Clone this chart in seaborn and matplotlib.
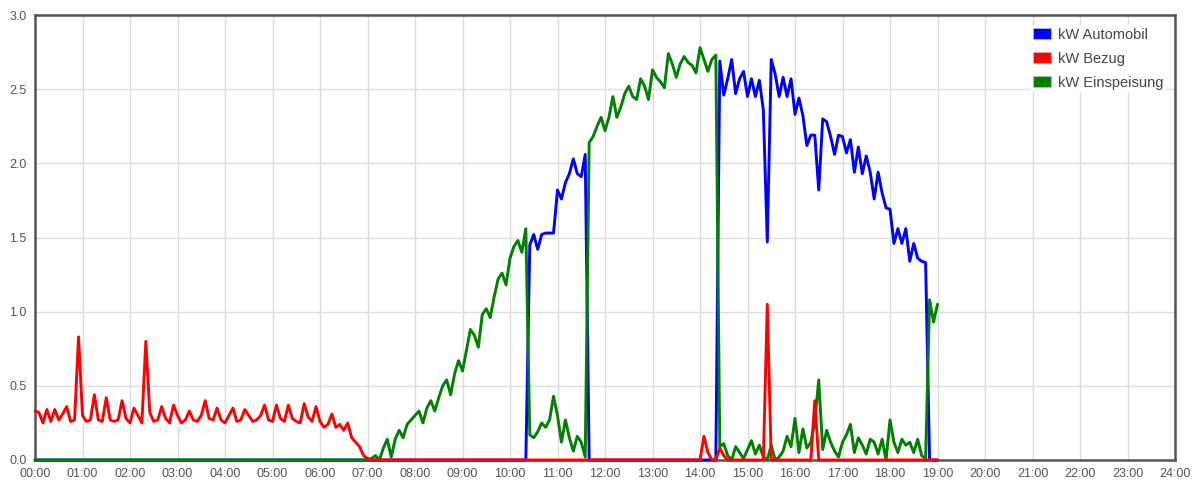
import numpy as np
import pandas as pd
import matplotlib
matplotlib.use("Agg")
import matplotlib.pyplot as plt
from matplotlib.patches import Patch
import seaborn as sns

# 5-minute readings from 00:00 to 19:00, one row per hour
kw_automobil = (
    [0.0] * 12 * 10  # 00:00 - 09:55
    + [0.0, 0.0, 0.0, 0.0, 0.0, 1.45, 1.52, 1.42, 1.52, 1.53, 1.53, 1.53]  # 10
    + [1.82, 1.76, 1.87, 1.93, 2.03, 1.93, 1.91, 2.06, 0.0, 0.0, 0.0, 0.0]  # 11
    + [0.0] * 12  # 12
    + [0.0] * 12  # 13
    + [0.0, 0.0, 0.0, 0.0, 0.0, 2.69, 2.46, 2.57, 2.70, 2.47, 2.57, 2.62]  # 14
    + [2.45, 2.57, 2.45, 2.56, 2.36, 1.47, 2.70, 2.60, 2.45, 2.58, 2.45, 2.57]  # 15
    + [2.33, 2.44, 2.32, 2.12, 2.19, 2.19, 1.82, 2.30, 2.28, 2.18, 2.06, 2.19]  # 16
    + [2.18, 2.07, 2.16, 1.94, 2.11, 1.93, 2.05, 1.94, 1.76, 1.94, 1.80, 1.70]  # 17
    + [1.69, 1.46, 1.56, 1.46, 1.56, 1.34, 1.46, 1.36, 1.34, 1.33, 0.0, 0.0]  # 18
    + [0.0]  # 19:00
)

kw_bezug = (
    [0.33, 0.32, 0.25, 0.34, 0.26, 0.34, 0.27, 0.31, 0.36, 0.26, 0.27, 0.83]  # 00
    + [0.30, 0.26, 0.27, 0.44, 0.27, 0.26, 0.42, 0.27, 0.26, 0.27, 0.40, 0.28]  # 01
    + [0.25, 0.35, 0.30, 0.25, 0.80, 0.32, 0.26, 0.27, 0.36, 0.28, 0.25, 0.37]  # 02
    + [0.30, 0.25, 0.27, 0.33, 0.27, 0.26, 0.30, 0.40, 0.28, 0.27, 0.35, 0.27]  # 03
    + [0.25, 0.30, 0.35, 0.26, 0.27, 0.34, 0.30, 0.26, 0.27, 0.30, 0.37, 0.27]  # 04
    + [0.26, 0.37, 0.28, 0.26, 0.37, 0.28, 0.26, 0.25, 0.38, 0.29, 0.26, 0.36]  # 05
    + [0.26, 0.22, 0.24, 0.31, 0.22, 0.24, 0.20, 0.25, 0.15, 0.12, 0.09, 0.03]  # 06
    + [0.01] + [0.0] * 11  # 07
    + [0.0] * 12 * 6  # 08 - 13
    + [0.0, 0.16, 0.05, 0.0, 0.0, 0.08, 0.03, 0.0, 0.0, 0.0, 0.0, 0.0]  # 14 (values from 14:25)
    + [0.0, 0.0, 0.0, 0.0, 0.0, 1.05, 0.0, 0.0, 0.0, 0.0, 0.0, 0.0]  # 15
    + [0.0, 0.0, 0.0, 0.0, 0.0, 0.40, 0.0, 0.0, 0.0, 0.0, 0.0, 0.0]  # 16
    + [0.0] * 12  # 17
    + [0.0] * 12  # 18
    + [0.0]  # 19:00
)

kw_einspeisung = (
    [0.0] * 12 * 7  # 00 - 06
    + [0.0, 0.01, 0.03, 0.0, 0.08, 0.14, 0.02, 0.14, 0.20, 0.15, 0.24, 0.27]  # 07
    + [0.30, 0.33, 0.25, 0.35, 0.40, 0.33, 0.42, 0.50, 0.54, 0.44, 0.58, 0.67]  # 08
    + [0.60, 0.74, 0.88, 0.84, 0.76, 0.98, 1.02, 0.96, 1.10, 1.22, 1.26, 1.18]  # 09
    + [1.36, 1.44, 1.48, 1.40, 1.56, 0.17, 0.15, 0.19, 0.25, 0.22, 0.27, 0.43]  # 10
    + [0.30, 0.12, 0.27, 0.15, 0.06, 0.16, 0.12, 0.02, 2.14, 2.18, 2.25, 2.31]  # 11
    + [2.22, 2.31, 2.45, 2.31, 2.38, 2.47, 2.52, 2.45, 2.43, 2.57, 2.52, 2.43]  # 12
    + [2.63, 2.58, 2.55, 2.51, 2.74, 2.67, 2.58, 2.67, 2.72, 2.68, 2.66, 2.61]  # 13
    + [2.78, 2.70, 2.62, 2.70, 2.73, 0.09, 0.11, 0.03, 0.0, 0.09, 0.05, 0.01]  # 14
    + [0.07, 0.13, 0.04, 0.10, 0.02, 0.0, 0.10, 0.0, 0.02, 0.06, 0.16, 0.09]  # 15
    + [0.28, 0.05, 0.21, 0.08, 0.12, 0.26, 0.54, 0.07, 0.20, 0.12, 0.06, 0.02]  # 16
    + [0.12, 0.17, 0.24, 0.05, 0.15, 0.10, 0.04, 0.14, 0.12, 0.04, 0.14, 0.00]  # 17
    + [0.27, 0.12, 0.05, 0.14, 0.10, 0.12, 0.05, 0.14, 0.03, 0.01, 1.08, 0.93]  # 18
    + [1.05]  # 19:00
)

series_labels = ["kW Automobil", "kW Bezug", "kW Einspeisung"]
series_colors = {"kW Automobil": "#0000ff", "kW Bezug": "#ff0000", "kW Einspeisung": "#008000"}
hour_labels = [f"{h:02d}:00" for h in range(25)]
y_ticks = [0.0, 0.5, 1.0, 1.5, 2.0, 2.5, 3.0]


def build_frame():
    """Long-form frame for seaborn."""
    n = len(kw_bezug)
    assert len(kw_automobil) == n and len(kw_einspeisung) == n
    stunde = np.arange(n) / 12.0
    parts = []
    for label, values in zip(series_labels, [kw_automobil, kw_bezug, kw_einspeisung]):
        parts.append(pd.DataFrame({"Stunde": stunde, "kW": values, "Serie": label}))
    return pd.concat(parts, ignore_index=True)


def main():
    df = build_frame()

    sns.set_theme(style="white")
    plt.rcParams["font.family"] = ["Liberation Sans", "DejaVu Sans"]

    fig = plt.figure(figsize=(11.92, 4.83), dpi=100)
    ax = fig.add_axes([35 / 1192, 23 / 483, 1140 / 1192, 445 / 483])

    # draw order: blue, green, red on top
    sns.lineplot(data=df, x="Stunde", y="kW", hue="Serie",
                 hue_order=["kW Automobil", "kW Einspeisung", "kW Bezug"],
                 palette=series_colors, estimator=None, linewidth=2.1,
                 legend=False, ax=ax)
    for line in ax.lines:
        line.set_clip_on(False)
        line.set_zorder(3)
        line.set_solid_joinstyle("round")

    ax.set_xlim(0, 24)
    ax.set_ylim(0, 3.0)
    ax.set_xticks(range(25))
    ax.set_xticklabels(hour_labels)
    ax.set_yticks(y_ticks)
    ax.set_yticklabels([f"{v:.1f}" for v in y_ticks])
    ax.tick_params(length=0, pad=6, labelsize=9, colors="#555555")
    ax.set_xlabel("")
    ax.set_ylabel("")

    ax.set_axisbelow(True)
    ax.grid(True, color="#dddddd", linewidth=1)
    for spine in ax.spines.values():
        spine.set_color("#555555")
        spine.set_linewidth(1.8)

    handles = [Patch(facecolor=series_colors[l], edgecolor="#bbbbbb", linewidth=0.6, label=l)
               for l in series_labels]
    leg = ax.legend(handles=handles, loc="upper left", bbox_to_anchor=(0.8728, 0.978),
                    frameon=True, facecolor="white", edgecolor="none", framealpha=1,
                    fontsize=10.5, labelspacing=0.68, handlelength=1.23, handleheight=0.82,
                    handletextpad=0.48, borderpad=0.2, borderaxespad=0)
    leg.set_zorder(4)
    for txt in leg.get_texts():
        txt.set_color("#444444")

    fig.savefig("out.png", dpi=100)
    plt.close(fig)


if __name__ == "__main__":
    main()
